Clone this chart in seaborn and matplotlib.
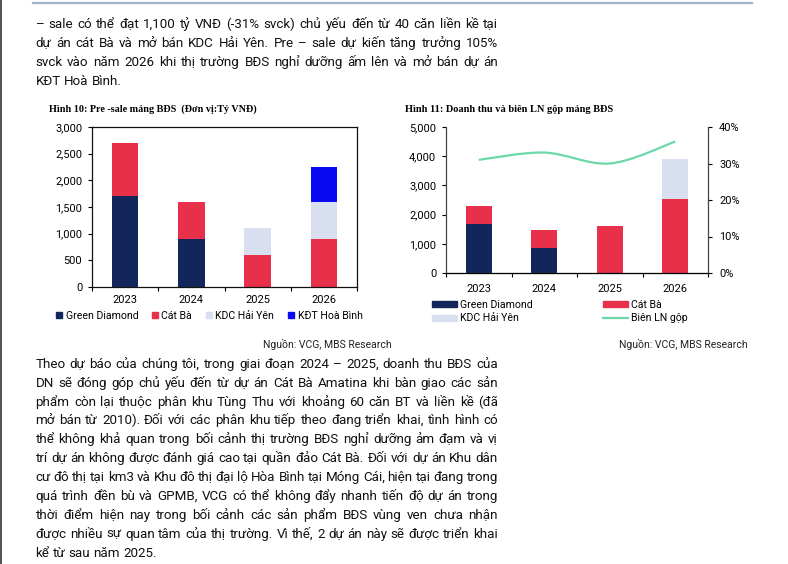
import unicodedata
import numpy as np
import matplotlib
matplotlib.use("Agg")
import matplotlib.pyplot as plt
import seaborn as sns
from matplotlib.lines import Line2D
from matplotlib.patches import Patch, PathPatch
from matplotlib.path import Path
from matplotlib.ticker import FuncFormatter

years = ["2023", "2024", "2025", "2026"]

# Hinh 10: pre-sale mang BDS (ty VND)
presale_green_diamond = [1700, 900, 0, 0]
presale_cat_ba = [1000, 700, 600, 900]
presale_kdc_hai_yen = [0, 0, 500, 700]
presale_kdt_hoa_binh = [0, 0, 0, 650]

# Hinh 11: doanh thu (ty VND) va bien LN gop
rev_green_diamond = [1680, 850, 0, 0]
rev_cat_ba = [620, 620, 1600, 2530]
rev_kdc_hai_yen = [0, 0, 0, 1390]
gross_margin = [0.31, 0.33, 0.30, 0.36]

para1 = [
    "– sale có thể đạt 1,100 tỷ VNĐ (-31% svck) chủ yếu đến từ 40 căn liền kề tại",
    "dự án cát Bà và mở bán KDC Hải Yên. Pre – sale dự kiến tăng trưởng 105%",
    "svck vào năm 2026 khi thị trường BĐS nghỉ dưỡng ấm lên và mở bán dự án",
    "KĐT Hoà Bình.",
]
para2 = [
    "Theo dự báo của chúng tôi, trong giai đoạn 2024 – 2025, doanh thu BĐS của",
    "DN sẽ đóng góp chủ yếu đến từ dự án Cát Bà Amatina khi bàn giao các sản",
    "phẩm còn lại thuộc phân khu Tùng Thu với khoảng 60 căn BT và liền kề (đã",
    "mở bán từ 2010). Đối với các phân khu tiếp theo đang triển khai, tình hình có",
    "thể không khả quan trong bối cảnh thị trường BĐS nghỉ dưỡng ảm đạm và vị",
    "trí dự án không được đánh giá cao tại quần đảo Cát Bà. Đối với dự án Khu dân",
    "cư đô thị tại km3 và Khu đô thị đại lộ Hòa Bình tại Móng Cái, hiện tại đang trong",
    "quá trình đền bù và GPMB, VCG có thể không đẩy nhanh tiến độ dự án trong",
    "thời điểm hiện nay trong bối cảnh các sản phẩm BĐS vùng ven chưa nhận",
    "được nhiều sự quan tâm của thị trường. Vì thế, 2 dự án này sẽ được triển khai",
    "kể từ sau năm 2025.",
]
title1 = "Hình 10: Pre -sale mảng BĐS  (Đơn vị:Tỷ VNĐ)"
title2 = "Hình 11: Doanh thu và biên LN gộp mảng BĐS"
source = "Nguồn: VCG, MBS Research"

navy = "#13265c"
red = "#e8304b"
light = "#d8e0f0"
blue = "#0a0af2"
mint = "#6cd8a9"

nfc = lambda s: unicodedata.normalize("NFC", s)

plt.rcParams["font.family"] = "Roboto"
serif = ["Liberation Serif", "DejaVu Serif"]
W, H = 788, 564

# small scratch canvas: measures where Agg really puts the baseline of a word,
# so words with a shallow descent (dot below, comma) can be lifted back in line
probe = plt.figure(figsize=(8, 0.6), dpi=100)


def baseline_row(s, size):
    probe.clear()
    probe.text(10 / 800, 0.5, s, va="baseline", color="black", fontsize=size)
    probe.canvas.draw()
    img = np.asarray(probe.canvas.buffer_rgba())[:, 10:15, 0]
    rows = np.where((img < 170).any(axis=1))[0]
    return rows.max() if len(rows) else 0


_shift_cache = {}


def word_shift(word, size):
    key = (word, size)
    if key not in _shift_cache:
        ref = baseline_row("H", size)
        _shift_cache[key] = baseline_row("H " + word, size) - ref
    return _shift_cache[key]


fig = plt.figure(figsize=(W / 100, H / 100), dpi=100)


def fx(px):
    return px / W


def fy(py):
    return 1 - py / H


def justified(lines, first_base, step, left=35.5, right=498, **kw):
    r = fig.canvas.get_renderer()
    size = kw["fontsize"]
    space = size * 100 / 72 * 0.25
    for i, line in enumerate(lines):
        line = nfc(line)
        base = round(first_base + i * step)  # whole pixels, like the probe
        words = line.split(" ")
        texts = [fig.text(0, fy(base - word_shift(w, size)), w, va="baseline", **kw)
                 for w in words]
        widths = [t.get_window_extent(r).width for t in texts]
        if i == len(lines) - 1:
            gap = space
        else:
            gap = max((right - left - sum(widths)) / (len(words) - 1), 0.55 * space)
        x = left
        for t, w in zip(texts, widths):
            t.set_x(fx(x))
            x += w + gap


body = dict(fontsize=9.6, color="#111111")
justified(para1, 28.3, 18.9, **body)
justified(para2, 367.7, 18.9, **body)
plt.close(probe)

# page decorations
fig.add_artist(Line2D([fx(33), fx(752)], [fy(2.5), fy(2.5)], color="#a3b4c8", lw=1.6))
fig.add_artist(Line2D([fx(0.8), fx(0.8)], [0, 1], color="#333333", lw=1.2))

thousands = FuncFormatter(lambda v, p: f"{v:,.0f}")
tick_font = 7.9


def stacked(ax, layers, colors):
    bottom = np.zeros(len(years))
    for vals, col in zip(layers, colors):
        sns.barplot(x=years, y=vals, order=years, bottom=bottom.copy(), color=col,
                    saturation=1, width=0.4, errorbar=None, linewidth=0, ax=ax)
        bottom += np.array(vals, dtype=float)
    ax.set_xlim(-0.5, 3.5)
    ax.set_xticks([-0.5, 0.5, 1.5, 2.5, 3.5], minor=True)
    ax.tick_params(axis="x", which="major", length=0, labelsize=tick_font, pad=6)
    ax.tick_params(axis="x", which="minor", length=3, width=0.8, direction="out")
    ax.tick_params(axis="y", length=3, width=0.8, labelsize=tick_font, pad=4)
    ax.yaxis.set_major_formatter(thousands)


# ---- Hinh 10
ax1 = fig.add_axes([fx(92), fy(287), 265 / W, 160 / H])
stacked(ax1, [presale_green_diamond, presale_cat_ba, presale_kdc_hai_yen, presale_kdt_hoa_binh],
        [navy, red, light, blue])
ax1.set_ylim(0, 3000)
ax1.set_yticks(range(0, 3001, 500))
for s in ax1.spines.values():
    s.set_linewidth(0.9)
    s.set_color("#111111")
fig.text(fx(49), fy(109), nfc(title1), family=serif, weight="bold",
         fontsize=7.3, va="center")

h1 = [Line2D([], [], marker="s", ls="", markersize=4.5, color=c) for c in [navy, red, light, blue]]
fig.legend(h1, [nfc(s) for s in ["Green Diamond", "Cát Bà", "KDC Hải Yên", "KĐT Hoà Bình"]],
           ncol=4, loc="center left", bbox_to_anchor=(fx(56), fy(316)), frameon=False,
           fontsize=7.6, handlelength=0.6, handletextpad=0.3, columnspacing=1.3,
           borderpad=0, borderaxespad=0)
fig.text(fx(392), fy(345), nfc(source), fontsize=7.5, ha="right", va="center", color="#222222")

# ---- Hinh 11
ax2 = fig.add_axes([fx(446), fy(273), 262 / W, 146 / H])
stacked(ax2, [rev_green_diamond, rev_cat_ba, rev_kdc_hai_yen], [navy, red, light])
ax2.set_ylim(0, 5000)
ax2.set_yticks(range(0, 5001, 1000))
ax2.tick_params(axis="x", which="major", pad=8)
ax2.spines["top"].set_visible(False)
ax2.spines["right"].set_visible(False)
for s in ["left", "bottom"]:
    ax2.spines[s].set_linewidth(0.9)
    ax2.spines[s].set_color("#444444")

ax2r = ax2.twinx()
ax2r.set_ylim(0, 0.4)
ax2r.set_yticks([0, 0.1, 0.2, 0.3, 0.4])
ax2r.yaxis.set_major_formatter(FuncFormatter(lambda v, p: f"{v:.0%}"))
ax2r.tick_params(axis="y", length=3, width=0.8, labelsize=tick_font, pad=5)
ax2r.spines["top"].set_visible(False)
ax2r.spines["left"].set_visible(False)
ax2r.spines["right"].set_linewidth(0.9)
ax2r.spines["right"].set_color("#444444")

# smoothed margin line (Catmull-Rom through the data points)
pts = np.column_stack([np.arange(len(years)), gross_margin])
ext = np.vstack([pts[0], pts, pts[-1]])
verts, codes = [pts[0]], [Path.MOVETO]
for i in range(len(pts) - 1):
    p0, p1, p2, p3 = ext[i], ext[i + 1], ext[i + 2], ext[i + 3]
    verts += [p1 + (p2 - p0) / 6, p2 - (p3 - p1) / 6, p2]
    codes += [Path.CURVE4] * 3
ax2r.add_patch(PathPatch(Path(verts, codes), fill=False, edgecolor=mint, lw=1.6))

fig.text(fx(405), fy(109), nfc(title2), family=serif, weight="bold",
         fontsize=7.5, va="center")
# legend fills column-wise: order so rows read GD | Cat Ba, KDC | margin
h2 = [Patch(color=navy), Patch(color=light), Patch(color=red), Line2D([], [], color=mint, lw=1.6)]
fig.legend(h2, [nfc(s) for s in ["Green Diamond", "KDC Hải Yên", "Cát Bà", "Biên LN gộp"]],
           ncol=2, loc="center left", bbox_to_anchor=(fx(432), fy(311.5)), frameon=False,
           fontsize=7.6, handlelength=2.4, handleheight=0.5, handletextpad=0.3,
           columnspacing=6.6, labelspacing=0.35, borderpad=0, borderaxespad=0)
fig.text(fx(748), fy(345), nfc(source), fontsize=7.5, ha="right", va="center", color="#222222")

fig.savefig("out.png", dpi=100, facecolor="white")
